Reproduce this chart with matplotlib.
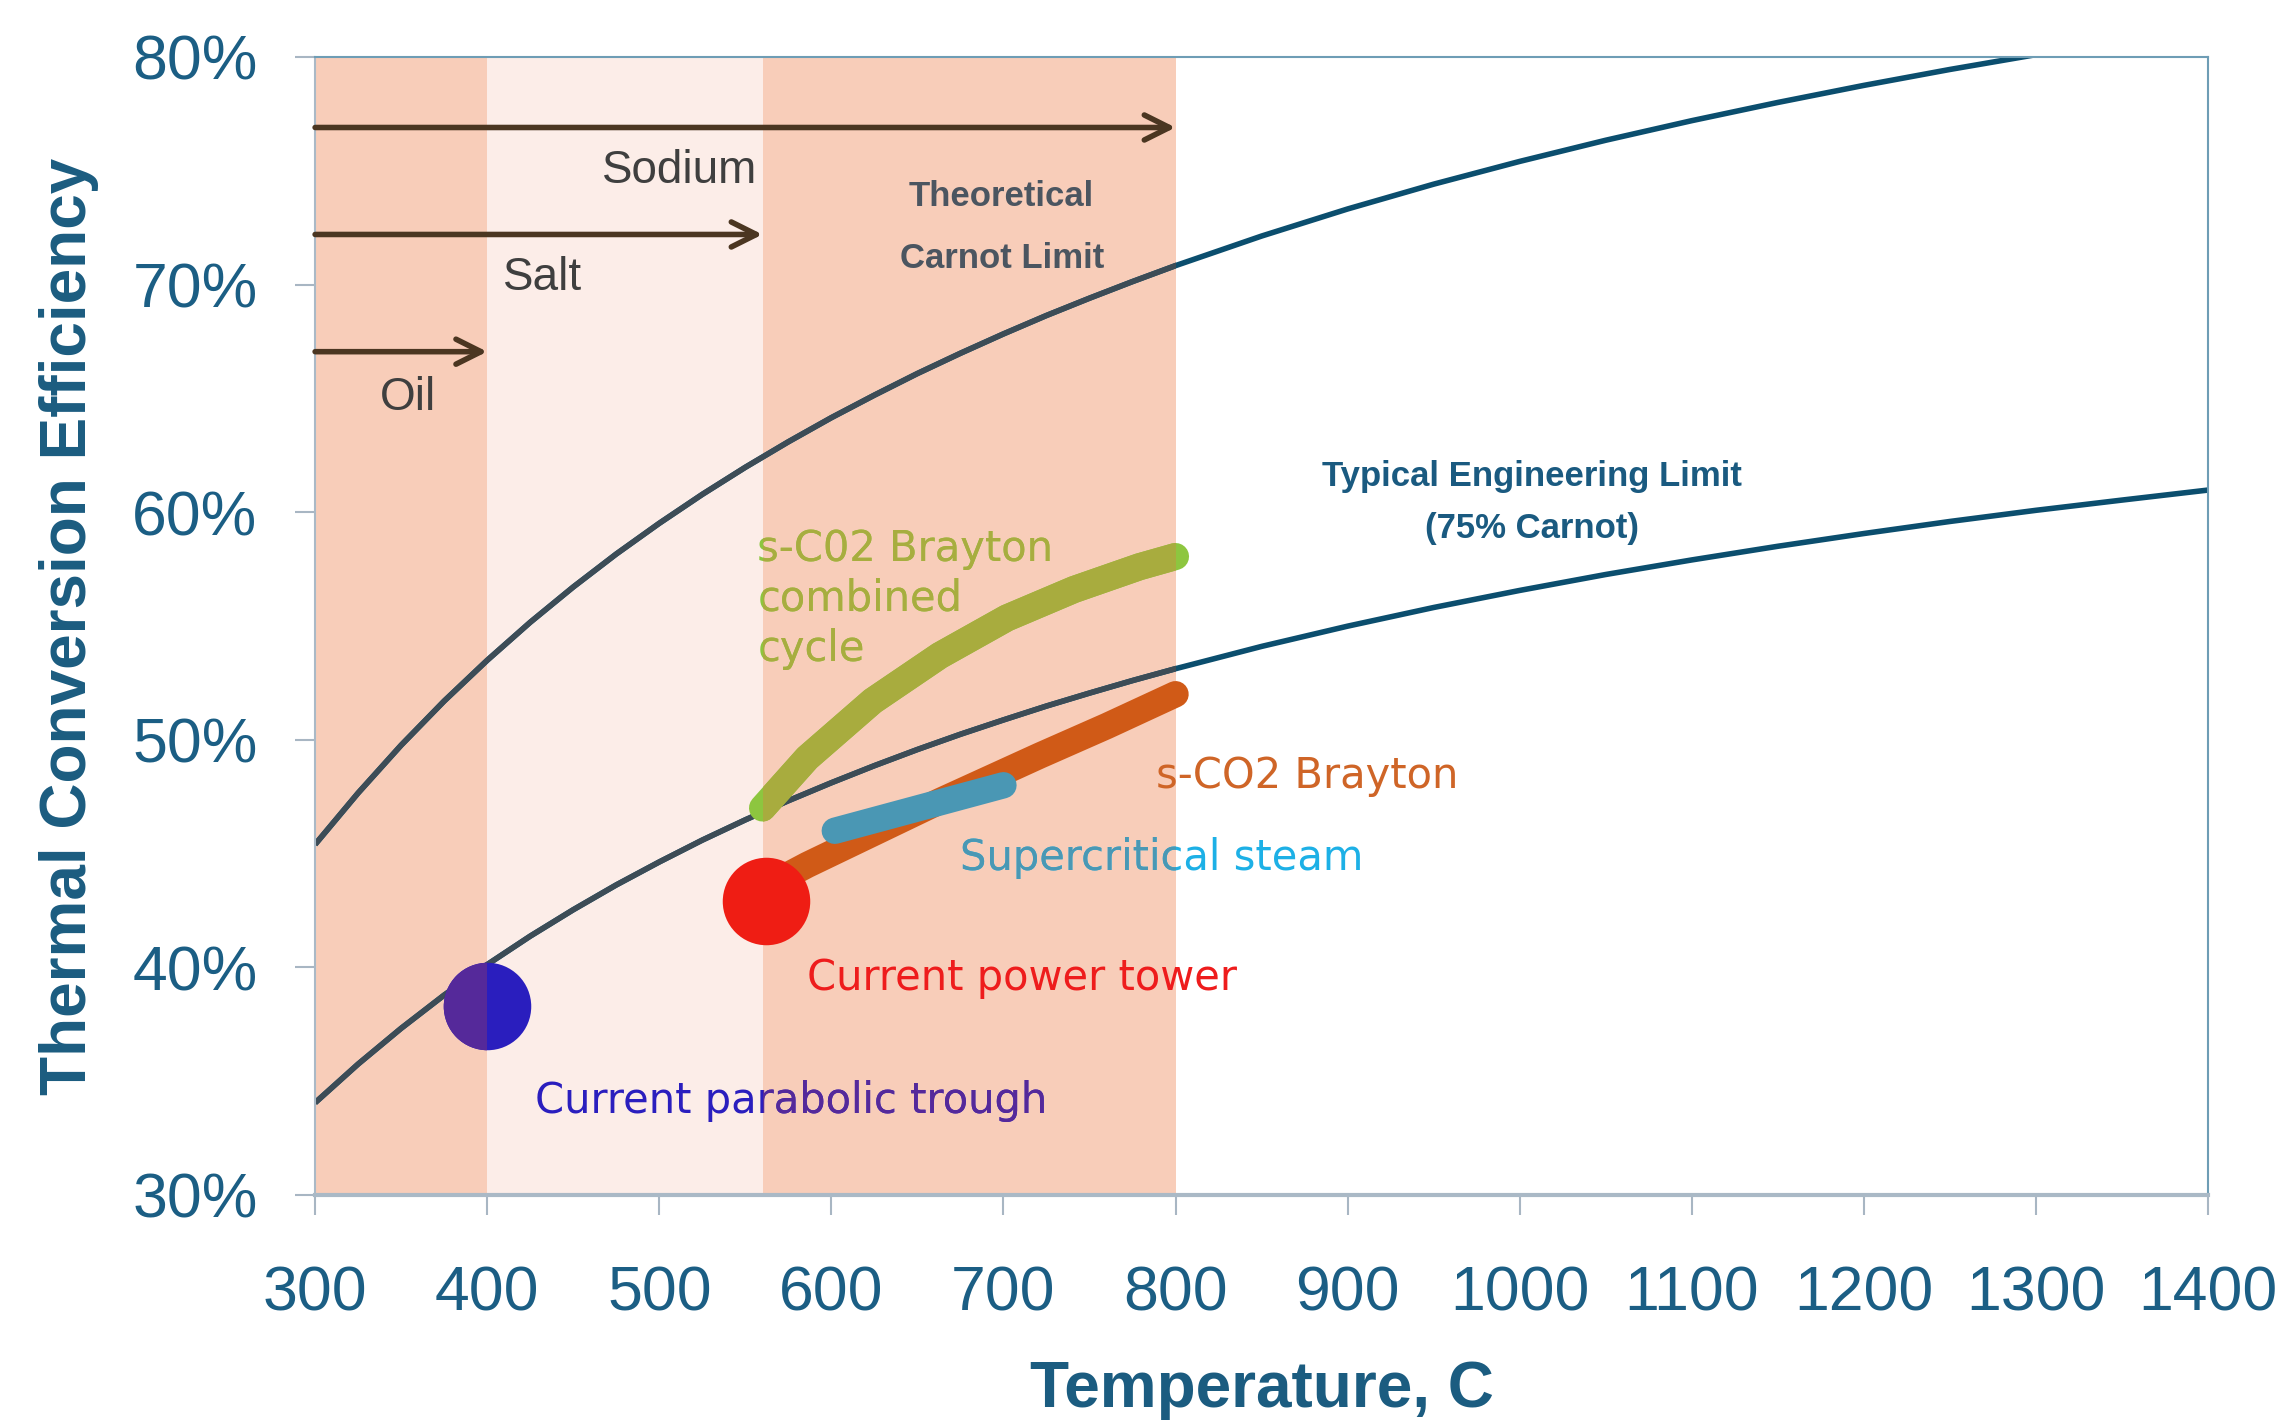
import matplotlib
matplotlib.use('Agg')
import matplotlib.pyplot as plt
from matplotlib.path import Path
from matplotlib.transforms import Bbox, TransformedBbox

# values (temperature C, efficiency %)
temps = [300, 325, 350, 375, 400, 425, 450, 475, 500, 525, 550, 575, 600, 625, 650,
         675, 700, 725, 750, 775, 800, 850, 900, 950, 1000, 1050, 1100, 1150, 1200,
         1250, 1300, 1350, 1400]
carnot = [45.40, 47.66, 49.76, 51.70, 53.49, 55.16, 56.71, 58.16, 59.51, 60.78, 61.97,
          63.09, 64.15, 65.14, 66.09, 66.98, 67.83, 68.64, 69.40, 70.13, 70.83, 72.13,
          73.32, 74.41, 75.41, 76.34, 77.20, 78.00, 78.75, 79.45, 80.10, 80.71, 81.29]
engineering = [34.05, 35.75, 37.32, 38.78, 40.12, 41.37, 42.53, 43.62, 44.63, 45.59,
               46.48, 47.32, 48.11, 48.86, 49.57, 50.24, 50.87, 51.48, 52.05, 52.60,
               53.12, 54.10, 54.99, 55.81, 56.56, 57.26, 57.90, 58.50, 59.06, 59.59,
               60.08, 60.53, 60.97]

combined_t = [560, 586, 624, 663, 702, 741, 779, 800]
combined_eff = [47.0, 49.2, 51.7, 53.7, 55.35, 56.6, 57.6, 58.05]
brayton_t = [566, 586, 663, 721, 760, 800]
brayton_eff = [43.7, 44.5, 47.3, 49.3, 50.6, 52.0]
steam_t = [602, 700]
steam_eff = [46.0, 48.0]

trough = (400, 38.3)
tower = (562, 42.9)

# heat transfer fluid ranges (start, end, arrow height)
fluids = ['Sodium', 'Salt', 'Oil']
fluid_start = [300, 300, 300]
fluid_end = [800, 560, 400]
fluid_eff = [76.9, 72.2, 67.05]

xticks = [300, 400, 500, 600, 700, 800, 900, 1000, 1100, 1200, 1300, 1400]
yticks = [30, 40, 50, 60, 70, 80]
ytick_labels = ['30%', '40%', '50%', '60%', '70%', '80%']

dark_band = '#F8CDB9'
light_band = '#FCEDE8'
teal = '#0B4E6E'
axis_blue = '#1B5E84'

fig = plt.figure(figsize=(22.9, 14.2), dpi=100)
ax = fig.add_axes([0.1376, 0.1585, 0.8266, 0.8014])
ax.set_xlim(300, 1400)
ax.set_ylim(30, 80)

ax.axvspan(300, 400, color=dark_band, lw=0, zorder=0)
ax.axvspan(400, 560, color=light_band, lw=0, zorder=0)
ax.axvspan(560, 800, color=dark_band, lw=0, zorder=0)


def rect(x0, x1):
    return Path([(x0, 0), (x1, 0), (x1, 100), (x0, 100), (x0, 0)],
                [Path.MOVETO, Path.LINETO, Path.LINETO, Path.LINETO, Path.CLOSEPOLY])


dark_path = Path.make_compound_path(rect(300, 400), rect(560, 800))
band_path = rect(300, 800)

# limit curves (look greyer where they cross the shaded area)
for vals in [carnot, engineering]:
    ax.plot(temps, vals, color=teal, lw=4, zorder=2, solid_capstyle='butt')
    ln, = ax.plot(temps, vals, color='#3D4C56', lw=4, zorder=2.1, solid_capstyle='butt')
    ln.set_clip_path(band_path, ax.transData)

ax.plot(brayton_t, brayton_eff, color='#D05A17', lw=19, zorder=3, solid_capstyle='round')
ax.plot(steam_t, steam_eff, color='#4A97B4', lw=19, zorder=3.2, solid_capstyle='round')
ax.plot(combined_t, combined_eff, color='#8DC63F', lw=19.5, zorder=3.4, solid_capstyle='round')
ln, = ax.plot(combined_t, combined_eff, color='#A8AC3E', lw=19.5, zorder=3.5, solid_capstyle='round')
ln.set_clip_path(dark_path, ax.transData)

ax.plot(*tower, 'o', ms=63, color='#EF1D14', mec='none', zorder=4)
ax.plot(*trough, 'o', ms=63, color='#2A1EBE', mec='none', zorder=4)
ln, = ax.plot(*trough, 'o', ms=63, color='#55299A', mec='none', zorder=4.1)
ln.set_clip_path(dark_path, ax.transData)

for name, x0, x1, y in zip(fluids, fluid_start, fluid_end, fluid_eff):
    ax.annotate('', xy=(x1, y), xytext=(x0, y),
                arrowprops=dict(arrowstyle='->,head_length=0.4,head_width=0.2',
                                color='#4B3621', lw=4, shrinkA=0, shrinkB=0,
                                mutation_scale=45), zorder=5)

lab = dict(family='Liberation Sans', fontsize=33, color='#3F3F3F', ha='center', va='baseline')
ax.text(512, 74.46, 'Sodium', **lab)
ax.text(432, 69.76, 'Salt', **lab)
ax.text(354, 64.49, 'Oil', **lab)

# baseline given is that of the last line
ax.text(699, 70.73, 'Theoretical\nCarnot Limit', family='Liberation Sans', fontweight='bold',
        fontsize=25, color='#4B5560', ha='center', va='baseline', linespacing=2.1)
ax.text(1007, 58.87, 'Typical Engineering Limit\n(75% Carnot)', family='Liberation Sans',
        fontweight='bold', fontsize=25, color='#1A5A80', ha='center', va='baseline',
        linespacing=1.72)

band_box = TransformedBbox(Bbox([[560, 0], [800, 100]]), ax.transData)


def two_tone(x, y, s, base, tint, **kw):
    ax.text(x, y, s, color=base, **kw)
    t = ax.text(x, y, s, color=tint, clip_on=True, **kw)
    t.set_clip_path(None)
    t.set_clip_box(band_box)


dv = dict(family='DejaVu Sans', fontsize=30, va='baseline', ha='left', zorder=6)
two_tone(557, 53.45, 's-C02 Brayton\ncombined\ncycle', '#8DC63F', '#A8AD3F', linespacing=1.25, **dv)
ax.text(788.7, 47.9, 's-CO2 Brayton', color='#CF6527', **dv)
two_tone(674.8, 44.28, 'Supercritical steam', '#1DB0E6', '#4A98B4', **dv)
ax.text(586, 39.0, 'Current power tower', color='#EE1C1C', **dv)
two_tone(428, 33.6, 'Current parabolic trough', '#2A1EBE', '#55299A', **dv)

ax.set_xticks(xticks)
ax.set_yticks(yticks)
ax.set_yticklabels(ytick_labels)
for lbl in ax.get_xticklabels() + ax.get_yticklabels():
    lbl.set_family('Liberation Sans')
ax.tick_params(axis='x', length=14.4, width=1.5, color='#A8B6C3', labelsize=45,
               labelcolor=axis_blue, pad=36)
ax.tick_params(axis='y', length=14.4, width=1.5, color='#A8B6C3', labelsize=45,
               labelcolor=axis_blue, pad=27)

ax.spines['bottom'].set_color('#AAB9C6')
ax.spines['bottom'].set_linewidth(3)
ax.spines['left'].set_color('#AAB9C6')
ax.spines['left'].set_linewidth(1.5)
ax.spines['top'].set_color('#6E9DB5')
ax.spines['top'].set_linewidth(1.5)
ax.spines['right'].set_color('#6E9DB5')
ax.spines['right'].set_linewidth(1.5)

ax.set_xlabel('Temperature, C', family='Liberation Sans', fontweight='bold', fontsize=46,
              color='#1B5C80')
ax.set_ylabel('Thermal Conversion Efficiency', family='Liberation Sans', fontweight='bold',
              fontsize=46, color='#1B5C80')
ax.xaxis.set_label_coords(0.5, -0.145)
ax.yaxis.set_label_coords(-0.114, 0.5)

fig.savefig('out.png', dpi=100)
